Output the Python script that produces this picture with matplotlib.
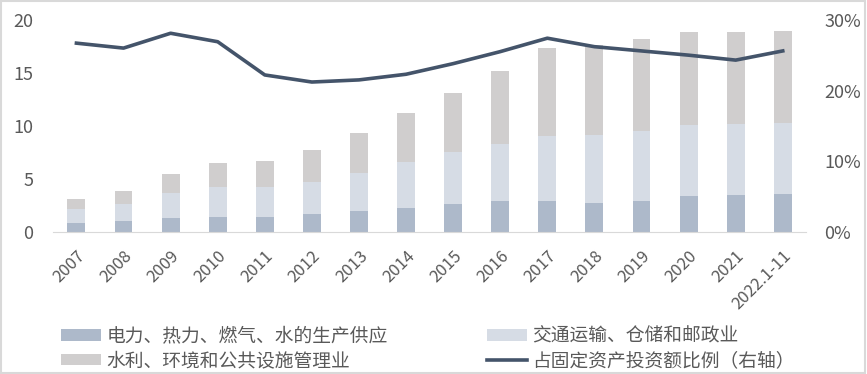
import numpy as np
import matplotlib.pyplot as plt
from matplotlib.patches import Rectangle

plt.rcParams['font.family'] = ['Noto Sans CJK SC', 'DejaVu Sans']

years = ["2007", "2008", "2009", "2010", "2011", "2012", "2013", "2014",
         "2015", "2016", "2017", "2018", "2019", "2020", "2021", "2022.1-11"]

# stacked totals (cumulative tops of each segment)
power_top = [0.85, 1.04, 1.32, 1.42, 1.42, 1.70, 1.98, 2.26,
             2.64, 2.92, 2.92, 2.74, 2.92, 3.40, 3.50, 3.58]
transport_top = [2.17, 2.64, 3.68, 4.25, 4.25, 4.72, 5.57, 6.60,
                 7.55, 8.30, 9.06, 9.15, 9.53, 10.10, 10.20, 10.30]
water_top = [3.10, 3.87, 5.47, 6.51, 6.70, 7.74, 9.34, 11.23,
             13.10, 15.20, 17.36, 17.60, 18.20, 18.87, 18.87, 18.96]
share = [26.7, 26.0, 28.1, 26.9, 22.2, 21.2, 21.5, 22.3,
         23.8, 25.5, 27.4, 26.2, 25.6, 25.0, 24.3, 25.6]

labels = ["电力、热力、燃气、水的生产供应", "交通运输、仓储和邮政业",
          "水利、环境和公共设施管理业", "占固定资产投资额比例（右轴）"]
colors = ["#ADB9CA", "#D6DCE5", "#D0CECE", "#44546A"]
text_color = "#595959"

power = np.array(power_top)
transport = np.array(transport_top) - power
water = np.array(water_top) - np.array(transport_top)

fig = plt.figure(figsize=(8.67, 3.74), dpi=100)
ax = fig.add_axes([0.061, 0.380, 0.869, 0.567])
x = np.arange(len(years))
w = 0.38
b1 = ax.bar(x, power, w, color=colors[0], label=labels[0])
b2 = ax.bar(x, transport, w, bottom=power, color=colors[1], label=labels[1])
b3 = ax.bar(x, water, w, bottom=power + transport, color=colors[2], label=labels[2])

ax.set_xlim(-0.5, len(years) - 0.5)
ax.set_ylim(0, 20)
ax.set_yticks([0, 5, 10, 15, 20])
ax.set_xticks(x)
ax.set_xticklabels(years, rotation=45, ha="right", rotation_mode="anchor",
                   fontsize=12, color=text_color)
ax.tick_params(axis="y", labelsize=13, colors=text_color, length=0, pad=14)
ax.tick_params(axis="x", length=0, pad=11)
for s in ["top", "right", "left"]:
    ax.spines[s].set_visible(False)
ax.spines["bottom"].set_color("#D9D9D9")

ax2 = ax.twinx()
ln, = ax2.plot(x, share, color=colors[3], lw=2.6, label=labels[3])
ax2.set_ylim(0, 30)
ax2.set_yticks([0, 10, 20, 30])
ax2.set_yticklabels(["0%", "10%", "20%", "30%"])
ax2.tick_params(axis="y", labelsize=13, colors=text_color, length=0, pad=13)
for s in ["top", "right", "left", "bottom"]:
    ax2.spines[s].set_visible(False)

leg = fig.legend([b1, b3, b2, ln], [labels[0], labels[2], labels[1], labels[3]],
                 ncol=2, loc="upper left", bbox_to_anchor=(0.0704, 0.130),
                 frameon=False, fontsize=13.5, handlelength=2.15, handleheight=0.6,
                 handletextpad=0.27, columnspacing=5.3, labelspacing=0.2,
                 borderpad=0, borderaxespad=0)
for t in leg.get_texts():
    t.set_color(text_color)

fig.patches.append(Rectangle((0.001, 0.002), 0.997, 0.995, transform=fig.transFigure,
                             fill=False, edgecolor="#D9D9D9", lw=1.5))

fig.savefig("out.png", dpi=100)
